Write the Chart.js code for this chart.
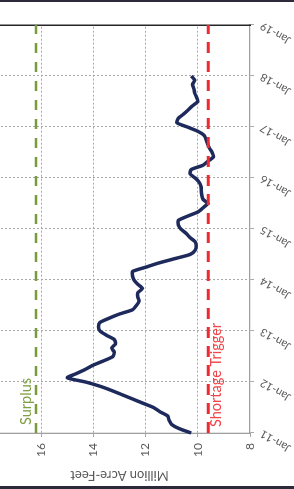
<!DOCTYPE html>
<html>
<head>
<meta charset="utf-8">
<script src="https://cdn.jsdelivr.net/npm/chart.js@4.4.0/dist/chart.umd.min.js"></script>
<style>
  html, body { margin: 0; padding: 0; background: #fff; }
  body { width: 294px; height: 489px; overflow: hidden; position: relative; }
  /* chart is drawn landscape, then turned a quarter to the left */
  #wrap { position: absolute; left: -17px; top: 489px; width: 489px; height: 311px;
          transform-origin: 0 0; transform: rotate(-90deg); }
  #frame { position: absolute; left: 0; top: 0; width: 294px; height: 489px; box-sizing: border-box;
           border-top: 2px solid #2b2a38; border-bottom: 3px solid #2b2a38; pointer-events: none; }
</style>
</head>
<body>
<div id="wrap"><canvas id="storageChart" width="489" height="311"></canvas></div>
<div id="frame"></div>
<script>
// Tick labels on the time axis (one per January)
const tickLabels = ['Jan-11', 'Jan-12', 'Jan-13', 'Jan-14', 'Jan-15', 'Jan-16', 'Jan-17', 'Jan-18', 'Jan-19'];
const monthNames = ['Jan', 'Feb', 'Mar', 'Apr', 'May', 'Jun', 'Jul', 'Aug', 'Sep', 'Oct', 'Nov', 'Dec'];

// Monthly storage, Jan-11 .. Jan-18 (million acre-feet)
const storage = [
    10.25, 10.7, 11.0, 11.1, 11.15, 11.45, 11.7, 12.1, 12.5, 12.9, 13.3, 13.75,   // 2011
    14.3, 15.0, 14.65, 14.3, 14.0, 13.6, 13.25, 13.2, 13.3, 13.15, 13.2, 13.5,    // 2012
    13.75, 13.8, 13.75, 13.4, 13.0, 12.5, 12.35, 12.25, 12.3, 12.3, 12.12, 12.3,  // 2013
    12.44, 12.5, 12.5, 12.0, 11.5, 10.9, 10.3, 10.1, 10.06, 10.1, 10.3, 10.45,    // 2014
    10.65, 10.75, 10.75, 10.4, 10.0, 9.8, 9.62, 9.8, 9.85, 9.87, 9.88, 9.95,      // 2015
    10.1, 10.3, 10.25, 9.8, 9.6, 9.4, 9.45, 9.55, 9.62, 9.68, 9.75, 10.0,         // 2016
    10.4, 10.8, 10.75, 10.55, 10.37, 10.2, 10.0, 10.05, 10.12, 10.15, 10.2, 10.12, // 2017
    10.25                                                                          // Jan-18
];

const surplusLevel = 16.2;
const shortageLevel = 9.6;

// Build one category label per month from Jan-11 through Jan-19
const monthLabels = [];
for (let yr = 11; yr <= 18; yr++) {
    monthNames.forEach(m => monthLabels.push(m + '-' + yr));
}
monthLabels.push(tickLabels[tickLabels.length - 1]);

const fontFamily = 'Lato, "DejaVu Sans", sans-serif';
const isJan = idx => idx % 12 === 0;
const lastIdx = monthLabels.length - 1;

// Draws the "Surplus" and "Shortage Trigger" captions next to their lines
const captionPlugin = {
    id: 'captions',
    afterDatasetsDraw(chart) {
        const { ctx, chartArea, scales } = chart;
        const ySurplus = scales.y.getPixelForValue(surplusLevel);
        const yShortage = scales.y.getPixelForValue(shortageLevel);
        ctx.save();
        ctx.font = '14.5px ' + fontFamily;
        ctx.textBaseline = 'alphabetic';
        ctx.fillStyle = '#7f9f45';
        ctx.fillText('Surplus', chartArea.left + 8, ySurplus - 5);
        ctx.fillStyle = '#f0454a';
        ctx.fillText('Shortage Trigger', chartArea.left + 6, yShortage + 12.5);
        ctx.restore();
    }
};

const storageChart = new Chart(document.getElementById('storageChart').getContext('2d'), {
    type: 'line',
    data: {
        labels: monthLabels,
        datasets: [
            {
                label: 'Storage',
                data: storage,
                borderColor: '#1d2a5b',
                borderWidth: 3.5,
                pointRadius: 0,
                tension: 0.2,
                fill: false,
                order: 2
            },
            {
                label: 'Surplus',
                data: monthLabels.map(() => surplusLevel),
                borderColor: '#789b3c',
                borderWidth: 2.5,
                borderDash: [10, 9],
                pointRadius: 0,
                fill: false,
                order: 1
            },
            {
                label: 'Shortage Trigger',
                data: monthLabels.map(() => shortageLevel),
                borderColor: '#ec2a30',
                borderWidth: 3,
                borderDash: [11, 8],
                pointRadius: 0,
                fill: false,
                order: 1
            }
        ]
    },
    options: {
        responsive: false,
        animation: false,
        layout: { padding: { left: 0, right: 25, top: 0, bottom: 0 } },
        plugins: {
            legend: { display: false },
            tooltip: { enabled: false }
        },
        scales: {
            x: {
                type: 'category',
                offset: false,
                grid: {
                    // only the January ticks survive; skip the two that sit on the frame
                    color: ctx => (ctx.tick && ctx.tick.value > 0 && ctx.tick.value < lastIdx) ? '#a8a8a8' : 'transparent',
                    tickColor: '#a8a8a8',
                    tickLength: 4,
                    lineWidth: 1
                },
                border: { color: '#a0a0a0', width: 1.3, dash: [2, 2] },
                ticks: {
                    autoSkip: false,
                    maxRotation: 60,
                    minRotation: 60,
                    padding: 4,
                    color: '#595959',
                    font: { size: 11, family: fontFamily },
                    callback: (val, idx) => isJan(idx) ? monthLabels[idx] : null
                },
                afterFit: scale => { scale.height = 44; }
            },
            y: {
                min: 8,
                max: 18,
                grid: {
                    color: ctx => (ctx.tick && ctx.tick.value > 8) ? '#a8a8a8' : 'transparent',
                    tickColor: '#a8a8a8',
                    tickLength: 4
                },
                border: { color: '#a0a0a0', width: 1.3, dash: [2, 2] },
                ticks: {
                    stepSize: 2,
                    padding: 6,
                    color: '#595959',
                    font: { size: 12, family: fontFamily },
                    // empty array keeps the 18 tick (cut off by the frame) without reserving space
                    callback: v => v <= 16 ? String(v) : []
                },
                title: {
                    display: true,
                    text: 'Million Acre-Feet',
                    color: '#595959',
                    font: { size: 13, family: fontFamily },
                    padding: { top: 6, bottom: 0 }
                },
                afterFit: scale => { scale.width = 56; }
            },
            yRight: {
                position: 'right',
                display: true,
                min: 8,
                max: 18,
                grid: { drawOnChartArea: false, drawTicks: false },
                border: { color: '#262626', width: 1.5 },
                ticks: { display: false },
                afterFit: scale => { scale.width = 0; }
            }
        }
    },
    plugins: [captionPlugin]
});
</script>
</body>
</html>
